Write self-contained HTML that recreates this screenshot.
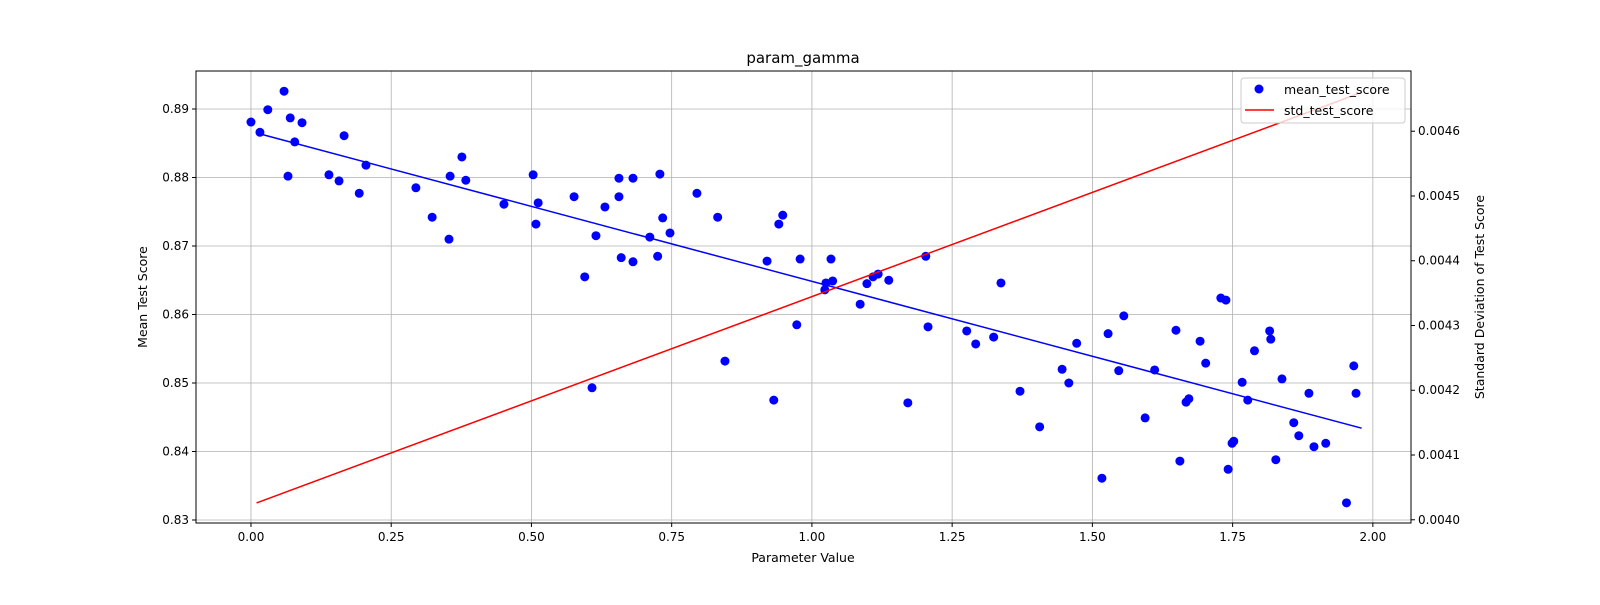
<!DOCTYPE html>
<html><head><meta charset="utf-8"><style>
body{margin:0;background:#fff;font-family:"Liberation Sans","DejaVu Sans",sans-serif}
svg text{font-family:"DejaVu Sans","Liberation Sans",sans-serif}
</style></head><body>
<svg id="chart" width="1600" height="600" xmlns="http://www.w3.org/2000/svg"></svg>
<script>
const pointX=[0.000,0.016,0.030,0.059,0.070,0.066,0.078,0.091,0.139,0.157,0.166,0.193,0.205,0.294,0.323,0.353,0.355,0.376,0.383,0.451,0.503,0.512,0.508,0.576,0.595,0.608,0.615,0.631,0.656,0.656,0.660,0.681,0.681,0.711,0.725,0.729,0.734,0.747,0.795,0.832,0.845,0.920,0.932,0.941,0.948,0.973,0.979,1.023,1.025,1.034,1.037,1.086,1.098,1.109,1.118,1.137,1.171,1.203,1.207,1.276,1.292,1.324,1.337,1.371,1.406,1.446,1.458,1.472,1.517,1.528,1.547,1.556,1.594,1.611,1.649,1.656,1.667,1.672,1.692,1.702,1.729,1.738,1.742,1.749,1.752,1.767,1.777,1.789,1.816,1.818,1.827,1.838,1.859,1.868,1.886,1.895,1.916,1.953,1.966,1.970];
const meanScore=[0.8881,0.8866,0.8899,0.8926,0.8887,0.8802,0.8852,0.8880,0.8804,0.8795,0.8861,0.8777,0.8818,0.8785,0.8742,0.8710,0.8802,0.8830,0.8796,0.8761,0.8804,0.8763,0.8732,0.8772,0.8655,0.8493,0.8715,0.8757,0.8799,0.8772,0.8683,0.8799,0.8677,0.8713,0.8685,0.8805,0.8741,0.8719,0.8777,0.8742,0.8532,0.8678,0.8475,0.8732,0.8745,0.8585,0.8681,0.8636,0.8646,0.8681,0.8649,0.8615,0.8645,0.8655,0.8659,0.8650,0.8471,0.8685,0.8582,0.8576,0.8557,0.8567,0.8646,0.8488,0.8436,0.8520,0.8500,0.8558,0.8361,0.8572,0.8518,0.8598,0.8449,0.8519,0.8577,0.8386,0.8472,0.8477,0.8561,0.8529,0.8624,0.8621,0.8374,0.8412,0.8415,0.8501,0.8475,0.8547,0.8576,0.8564,0.8388,0.8506,0.8442,0.8423,0.8485,0.8407,0.8412,0.8325,0.8525,0.8485];
const fitX=[0.01,1.98];
const fitMean=[0.8865,0.8434];
const fitStd=[0.004026,0.00466];
const xTicks=[0,0.25,0.5,0.75,1.0,1.25,1.5,1.75,2.0];
const yTicks=[0.83,0.84,0.85,0.86,0.87,0.88,0.89];
const y2Ticks=[0.0040,0.0041,0.0042,0.0043,0.0044,0.0045,0.0046];

const L=196,R=1411,T=71,B=523;
const xMin=-0.098,xMax=2.068,yMin=0.82956,yMax=0.89555,y2Min=0.003995,y2Max=0.004693;
const sx=v=>L+(v-xMin)/(xMax-xMin)*(R-L);
const sy=v=>B-(v-yMin)/(yMax-yMin)*(B-T);
const sy2=v=>B-(v-y2Min)/(y2Max-y2Min)*(B-T);
const svg=document.getElementById('chart');
const NS='http://www.w3.org/2000/svg';
function mk(tag,attrs,parent){const e=document.createElementNS(NS,tag);for(const k in attrs)e.setAttribute(k,attrs[k]);(parent||svg).appendChild(e);return e;}
function txt(x,y,s,attrs){const e=mk('text',Object.assign({x:x,y:y,'font-size':12,fill:'#000'},attrs||{}));e.textContent=s;return e;}

// grid
xTicks.forEach(v=>{const l=mk('line',{x1:sx(v),x2:sx(v),y1:T,y2:B,stroke:'#b0b0b0','stroke-width':0.8});

});
yTicks.forEach(v=>{const l=mk('line',{x1:L,x2:R,y1:sy(v),y2:sy(v),stroke:'#b0b0b0','stroke-width':0.8});

});

// fit lines
const bl=mk('line',{x1:sx(fitX[0]),y1:sy(fitMean[0]),x2:sx(fitX[1]),y2:sy(fitMean[1]),stroke:'#0000ff','stroke-width':1.5});



// points
pointX.forEach((v,i)=>{const c=mk('circle',{cx:sx(v),cy:sy(meanScore[i]),r:4.5,fill:'#0000ff'});

});

const rl=mk('line',{x1:sx(fitX[0]),y1:sy2(fitStd[0]),x2:sx(fitX[1]),y2:sy2(fitStd[1]),stroke:'#ff0000','stroke-width':1.5});



// frame
const fr=mk('rect',{x:L,y:T,width:R-L,height:B-T,fill:'none',stroke:'#000','stroke-width':1});



// ticks
xTicks.forEach(v=>{mk('line',{x1:sx(v),x2:sx(v),y1:B,y2:B+4,stroke:'#000'});
const t=txt(sx(v),B+18,v.toFixed(2),{'text-anchor':'middle','font-size':12});

});
yTicks.forEach(v=>{mk('line',{x1:L-4,x2:L,y1:sy(v),y2:sy(v),stroke:'#000'});
const t=txt(L-7,sy(v)+4,v.toFixed(2),{'text-anchor':'end'});

});
y2Ticks.forEach(v=>{mk('line',{x1:R,x2:R+4,y1:sy2(v),y2:sy2(v),stroke:'#000'});
const t=txt(R+7,sy2(v)+4,v.toFixed(4),{'text-anchor':'start'});

});

// titles
let t=txt(803,63,'param_gamma',{'text-anchor':'middle','font-size':15});

t=txt(803,562,'Parameter Value',{'text-anchor':'middle','font-size':12.5});

t=txt(147,297,'Mean Test Score',{'text-anchor':'middle','font-size':12.5,transform:'rotate(-90 147 297)'});

t=txt(1484,297,'Standard Deviation of Test Score',{'text-anchor':'middle','font-size':12.5,transform:'rotate(-90 1484 297)'});


// legend
const lg=mk('g',{});


mk('rect',{x:1241,y:78,width:164,height:45,rx:3,fill:'#fff','fill-opacity':0.8,stroke:'#ccc'},lg);
mk('circle',{cx:1259,cy:89,r:4.5,fill:'#0000ff'},lg);
const t1=txt(1284,94,'mean_test_score',{'font-size':12.5},);lg.appendChild(t1);

mk('line',{x1:1245,x2:1274,y1:110,y2:110,stroke:'#ff0000','stroke-width':1.5},lg);
const t2=txt(1284,115,'std_test_score',{'font-size':12.5});lg.appendChild(t2);

</script>
</body></html>
